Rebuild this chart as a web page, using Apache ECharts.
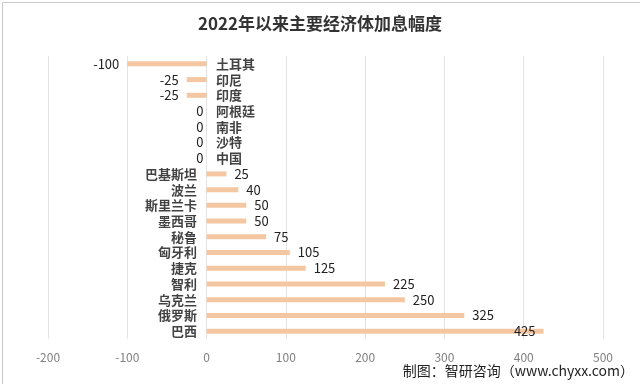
<!DOCTYPE html>
<html>
<head>
<meta charset="utf-8">
<script src="https://cdn.jsdelivr.net/npm/echarts@6/dist/echarts.min.js"></script>
<style>
  html, body { margin: 0; padding: 0; background: #fff; }
  #main { width: 640px; height: 384px; }
</style>
</head>
<body>
<div id="main"></div>
<script>
var countries = ['土耳其', '印尼', '印度', '阿根廷', '南非', '沙特', '中国', '巴基斯坦', '波兰',
  '斯里兰卡', '墨西哥', '秘鲁', '匈牙利', '捷克', '智利', '乌克兰', '俄罗斯', '巴西'];
var hikes = [-100, -25, -25, 0, 0, 0, 0, 25, 40, 50, 50, 75, 105, 125, 225, 250, 325, 425];
var xTicks = [-200, 500, 100]; // min, max, step

var font = 'Noto Sans CJK SC';
var chart = echarts.init(document.getElementById('main'));

// 数值标签：正数放右侧，负数和0放左侧，最长一条放条内
var barData = hikes.map(function (v) {
  var lbl = { position: v > 0 ? 'right' : 'left' };
  if (v === 0) lbl.distance = 3;
  if (v === 425) lbl.position = 'insideRight';
  return { value: v, label: lbl };
});

// 国家名称贴着0轴：正数在左，负数和0在右
var nameData = countries.map(function (c, i) {
  return {
    value: [0, c],
    label: { position: hikes[i] > 0 ? 'left' : 'right', formatter: c }
  };
});

var option = {
  animation: false,
  title: {
    text: '2022年以来主要经济体加息幅度',
    left: 'center',
    top: 10,
    textStyle: { fontFamily: font, fontSize: 17, fontWeight: 'bold', color: '#333' }
  },
  grid: { left: 48, right: 37, top: 56, bottom: 45 },
  xAxis: {
    type: 'value',
    min: xTicks[0], max: xTicks[1], interval: xTicks[2],
    axisLine: { show: false },
    axisTick: { show: false },
    splitLine: { lineStyle: { color: '#e3e3e3' } },
    axisLabel: { color: '#808080', fontSize: 12, fontFamily: font, margin: 12 }
  },
  yAxis: {
    type: 'category',
    data: countries,
    inverse: true,
    axisLine: { show: false },
    axisTick: { show: false },
    axisLabel: { show: false }
  },
  series: [
    {
      type: 'bar',
      data: barData,
      barWidth: 5,
      itemStyle: { color: '#F4C7A2' },
      label: {
        show: true,
        distance: 8,
        color: '#222',
        fontSize: 13,
        fontFamily: font
      }
    },
    {
      type: 'scatter',
      data: nameData,
      symbolSize: 1,
      itemStyle: { color: 'rgba(0,0,0,0)' },
      silent: true,
      z: 5,
      label: {
        show: true,
        distance: 9,
        color: '#111',
        fontSize: 13,
        fontWeight: 'bold',
        fontFamily: font
      }
    }
  ],
  graphic: [
    {
      type: 'text',
      right: 6,
      bottom: 6,
      style: {
        text: '制图：智研咨询（www.chyxx.com）',
        fontFamily: font,
        fontSize: 14,
        fill: '#222'
      }
    },
    {
      type: 'rect',
      left: 0, top: 0,
      shape: { width: 639, height: 383 },
      style: { fill: 'none', stroke: '#c8c8c8', lineWidth: 1 }
    }
  ]
};

chart.setOption(option);
</script>
</body>
</html>
